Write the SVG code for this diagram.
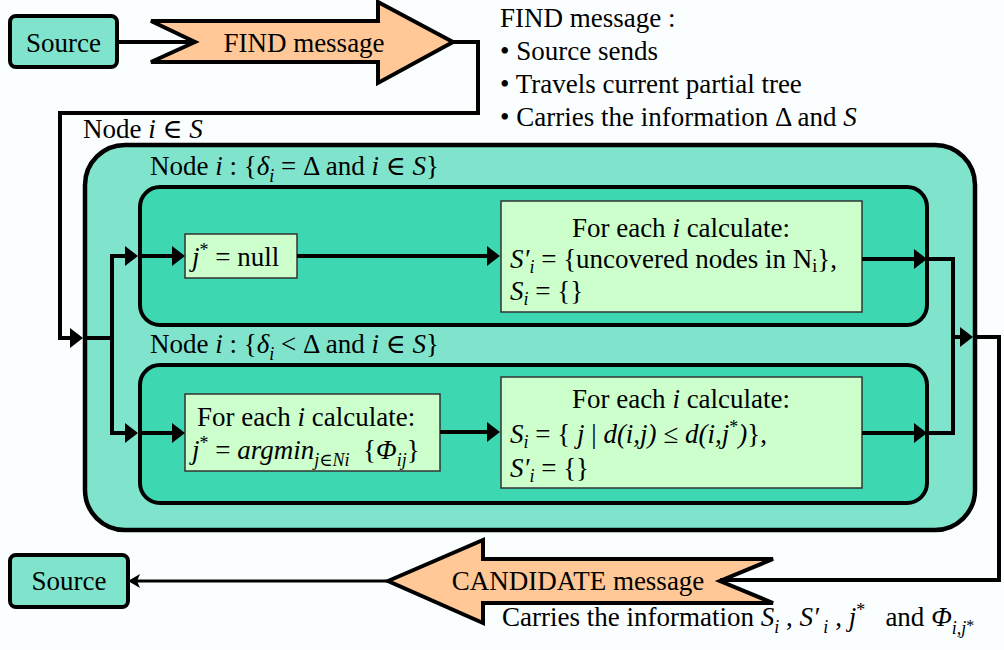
<svg xmlns="http://www.w3.org/2000/svg" width="1004" height="650" viewBox="0 0 1004 650" font-family="'Liberation Serif', 'Times New Roman', Tinos, Times, 'Noto Serif', 'DejaVu Serif', serif">
<style>
.t{font-family:'Liberation Serif','Times New Roman',Tinos,Times,'Noto Serif','DejaVu Serif',serif;font-size:27px;fill:#000}
.n{font-size:26px}
.i{font-style:italic}
.s{font-size:18px}
.xs{font-size:16px}
.src{fill:#7FE4CB;stroke:#000;stroke-width:4}
.outer{fill:#80E4CC;stroke:#000;stroke-width:4.5}
.inner{fill:#3DD8B2;stroke:#000;stroke-width:4}
.calc{fill:#CCFFCC;stroke:#333;stroke-width:1.5}
.msg{fill:#FFC896;stroke:#000;stroke-width:4;stroke-linejoin:miter}
.c{fill:none;stroke:#000;stroke-width:4;stroke-linejoin:miter}
</style>
<defs>
<marker id="ah" markerUnits="userSpaceOnUse" markerWidth="14" markerHeight="20" refX="7" refY="10" orient="auto" overflow="visible">
<path d="M0,0 L13,10 L0,20 z" fill="#000"/>
</marker>
<marker id="ahs" markerUnits="userSpaceOnUse" markerWidth="12" markerHeight="14" refX="4" refY="7" orient="auto" overflow="visible">
<path d="M0,0 L12,7 L0,14 L3,7 z" fill="#000"/>
</marker>
</defs>
<rect x="0" y="0" width="1004" height="650" fill="#FAFEFF"/>

<g id="outer-node">
<rect class="outer" x="85" y="145" width="890" height="385" rx="40"/>
<text class="t" x="83" y="138">Node <tspan class="i">i</tspan> ∈ <tspan class="i">S</tspan></text>
</g>

<g id="node-eq">
<rect class="inner" x="140" y="187" width="787" height="138" rx="20"/>
<text class="t" x="150" y="175">Node <tspan class="i">i</tspan> : {<tspan class="i">δ</tspan><tspan class="i s" dy="7">i</tspan><tspan dy="-7"> = Δ and </tspan><tspan class="i">i</tspan> ∈ <tspan class="i">S</tspan>}</text>
</g>

<g id="node-lt">
<rect class="inner" x="140" y="365" width="787" height="138" rx="20"/>
<text class="t" x="150" y="353">Node <tspan class="i">i</tspan> : {<tspan class="i">δ</tspan><tspan class="i s" dy="7">i</tspan><tspan dy="-7"> &lt; Δ and </tspan><tspan class="i">i</tspan> ∈ <tspan class="i">S</tspan>}</text>
</g>

<g id="source-top">
<rect class="src" x="10" y="16" width="107" height="51" rx="6"/>
<text class="t" x="63.5" y="52" text-anchor="middle">Source</text>
</g>

<g id="find-message">
<polygon class="msg" points="151,21 378,21 378,2 453,42 378,83 378,62 151,62 195,42"/>
<text class="t" x="304" y="52" text-anchor="middle">FIND message</text>
</g>

<g id="find-notes">
<text class="t" x="500" y="27">FIND message :</text>
<text class="t" x="500" y="60">• Source sends</text>
<text class="t" x="500" y="93">• Travels current partial tree</text>
<text class="t" x="500" y="126">• Carries the information Δ and <tspan class="i">S</tspan></text>
</g>

<g id="jnull">
<rect class="calc" x="185" y="234" width="112" height="44"/>
<text class="t" x="192" y="266"><tspan class="i">j</tspan><tspan class="s" dy="-10">*</tspan><tspan dy="10"> = null</tspan></text>
</g>

<g id="calc-top">
<rect class="calc" x="501" y="201" width="361" height="111"/>
<text class="t" x="681" y="237" text-anchor="middle">For each <tspan class="i">i</tspan> calculate:</text>
<text class="t" x="510" y="268"><tspan class="i">S′</tspan><tspan class="i s" dy="5">i</tspan><tspan dy="-5"> = {uncovered nodes in N</tspan><tspan class="s" dy="4">i</tspan><tspan dy="-4">},</tspan></text>
<text class="t" x="510" y="300"><tspan class="i">S</tspan><tspan class="i s" dy="5">i</tspan><tspan dy="-5"> = {}</tspan></text>
</g>

<g id="argmin">
<rect class="calc" x="185" y="394" width="255" height="77"/>
<text class="t" x="197" y="426">For each <tspan class="i">i</tspan> calculate:</text>
<text class="t" x="192" y="459"><tspan class="i">j</tspan><tspan class="s" dy="-10">*</tspan><tspan dy="10"> = </tspan><tspan class="i">argmin</tspan><tspan class="i s" dy="7">j∈Ni</tspan><tspan dy="-7">&#160; {</tspan><tspan class="i">Φ</tspan><tspan class="i s" dy="7">ij</tspan><tspan dy="-7">}</tspan></text>
</g>

<g id="calc-bottom">
<rect class="calc" x="501" y="377" width="361" height="111"/>
<text class="t" x="681" y="408" text-anchor="middle">For each <tspan class="i">i</tspan> calculate:</text>
<text class="t" x="510" y="443"><tspan class="i">S</tspan><tspan class="i s" dy="5">i</tspan><tspan dy="-5"> = { </tspan><tspan class="i">j</tspan> | <tspan class="i">d(i,j)</tspan> ≤ <tspan class="i">d(i,j</tspan><tspan class="s" dy="-10">*</tspan><tspan class="i" dy="10">)</tspan>},</text>
<text class="t" x="510" y="477"><tspan class="i">S′</tspan><tspan class="i s" dy="5">i</tspan><tspan dy="-5"> = {}</tspan></text>
</g>

<g id="candidate-message">
<polygon class="msg" points="388,581 483,540 483,559 773,559 720,581 773,603 483,603 483,623"/>
<text class="t" x="578" y="590" text-anchor="middle">CANDIDATE message</text>
<text class="t" x="502" y="626">Carries the information <tspan class="i">S</tspan><tspan class="i s" dy="7">i</tspan><tspan dy="-7">&#160;, </tspan><tspan class="i">S′</tspan><tspan class="i s" dy="7">&#160;i</tspan><tspan dy="-7">&#160;, </tspan><tspan class="i">j</tspan><tspan class="s" dy="-10">*</tspan><tspan dy="10">&#160;&#160; and </tspan><tspan class="i">Φ</tspan><tspan class="i s" dy="8">i,j</tspan><tspan class="xs" dy="-3">*</tspan></text>
</g>

<g id="source-bottom">
<rect class="src" x="10" y="555" width="118" height="52" rx="6"/>
<text class="t" x="69" y="590" text-anchor="middle">Source</text>
</g>

<g id="connectors">
<path class="c" d="M117,42 H195"/>
<path class="c" d="M453,42 H478 V113 H60 V338 H77" marker-end="url(#ah)"/>
<path class="c" d="M83,338 H112 V256 H132" marker-end="url(#ah)"/>
<path class="c" d="M138,256 H179" marker-end="url(#ah)"/>
<path class="c" d="M112,338 V433 H132" marker-end="url(#ah)"/>
<path class="c" d="M138,433 H179" marker-end="url(#ah)"/>
<path class="c" d="M297,256 H494" marker-end="url(#ah)"/>
<path class="c" d="M440,432 H494" marker-end="url(#ah)"/>
<path class="c" d="M862,259 H921" marker-end="url(#ah)"/>
<path class="c" d="M927,259 H953 V337 H967" marker-end="url(#ah)"/>
<path class="c" d="M862,433 H921" marker-end="url(#ah)"/>
<path class="c" d="M927,433 H953 V337"/>
<path class="c" d="M973,337 H999 V580 H720"/>
<path class="c" style="stroke-width:3" d="M388,581 H136" marker-end="url(#ahs)"/>
</g>
</svg>
